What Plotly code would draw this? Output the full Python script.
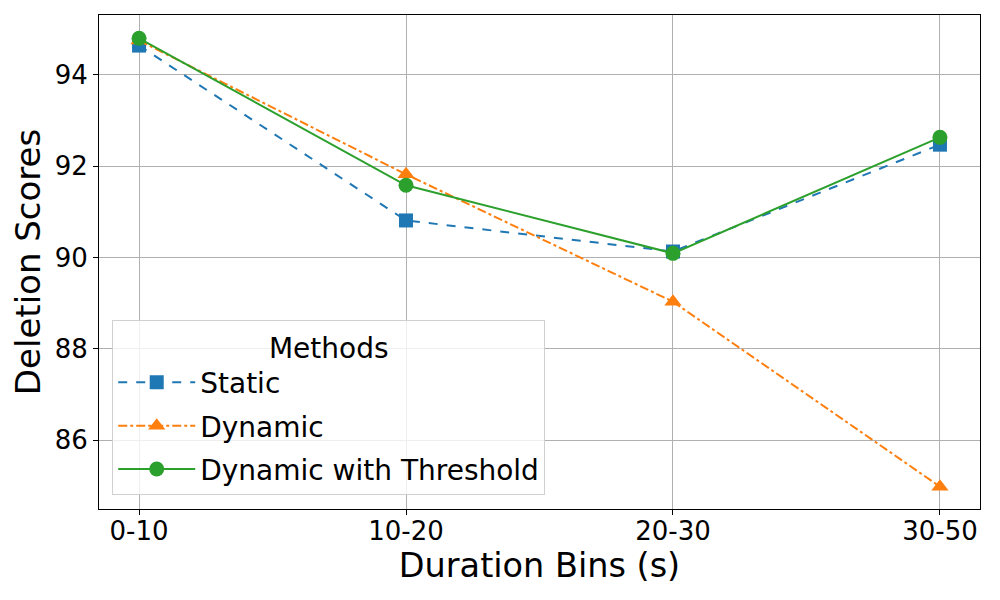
import plotly.graph_objects as go

categories = ["0-10", "10-20", "20-30", "30-50"]
static_vals = [94.64, 90.81, 90.13, 92.47]
dynamic_vals = [94.75, 91.82, 89.03, 84.98]
threshold_vals = [94.80, 91.58, 90.09, 92.63]

x_idx = list(range(len(categories)))

fig = go.Figure()
fig.add_trace(go.Scatter(x=x_idx, y=static_vals, name="Static", mode="lines+markers",
                         legendgroup="a",
                         line=dict(color="#1f77b4", width=2, dash="dash"),
                         marker=dict(symbol="square", size=14, color="#1f77b4")))
fig.add_trace(go.Scatter(x=x_idx, y=dynamic_vals, name="Dynamic", mode="lines+markers",
                         legendgroup="b",
                         line=dict(color="#ff7f0e", width=2, dash="dashdot"),
                         marker=dict(symbol="triangle-up", size=15, color="#ff7f0e")))
fig.add_trace(go.Scatter(x=x_idx, y=threshold_vals, name="Dynamic with Threshold", mode="lines+markers",
                         legendgroup="c",
                         line=dict(color="#2ca02c", width=2),
                         marker=dict(symbol="circle", size=15, color="#2ca02c")))

font = "DejaVu Sans"
fig.update_layout(
    width=1000, height=600,
    margin=dict(l=91, r=28, t=7, b=99),
    paper_bgcolor="white", plot_bgcolor="white",
    font=dict(family=font, color="black", size=26),
    legend=dict(
        title=dict(text="Methods", side="top center", font=dict(size=28)),
        x=0.015, y=0.028, xanchor="left", yanchor="bottom",
        bgcolor="rgba(255,255,255,0.8)", bordercolor="#d0d0d0", borderwidth=1,
        font=dict(size=28), itemwidth=77,
        traceorder="grouped", tracegroupgap=4,
    ),
)
fig.update_xaxes(
    tickmode="array", tickvals=x_idx, ticktext=categories,
    range=[-0.15, 3.15], automargin=False,
    title=dict(text="Duration Bins (s)", font=dict(size=33.5), standoff=2),
    showgrid=True, gridcolor="#b0b0b0", gridwidth=1,
    showline=True, linecolor="black", linewidth=1, mirror=True,
    ticks="outside", ticklen=5, tickcolor="black", zeroline=False,
    tickfont=dict(size=26), ticklabelstandoff=-6,
)
fig.update_yaxes(
    range=[84.49, 95.31], automargin=False,
    tickvals=[86, 88, 90, 92, 94],
    title=dict(text="Deletion Scores", font=dict(size=34), standoff=8),
    showgrid=True, gridcolor="#b0b0b0", gridwidth=1,
    showline=True, linecolor="black", linewidth=1, mirror=True,
    ticks="outside", ticklen=5, tickcolor="black", zeroline=False,
    tickfont=dict(size=26),
)

fig.write_html("out.html")
